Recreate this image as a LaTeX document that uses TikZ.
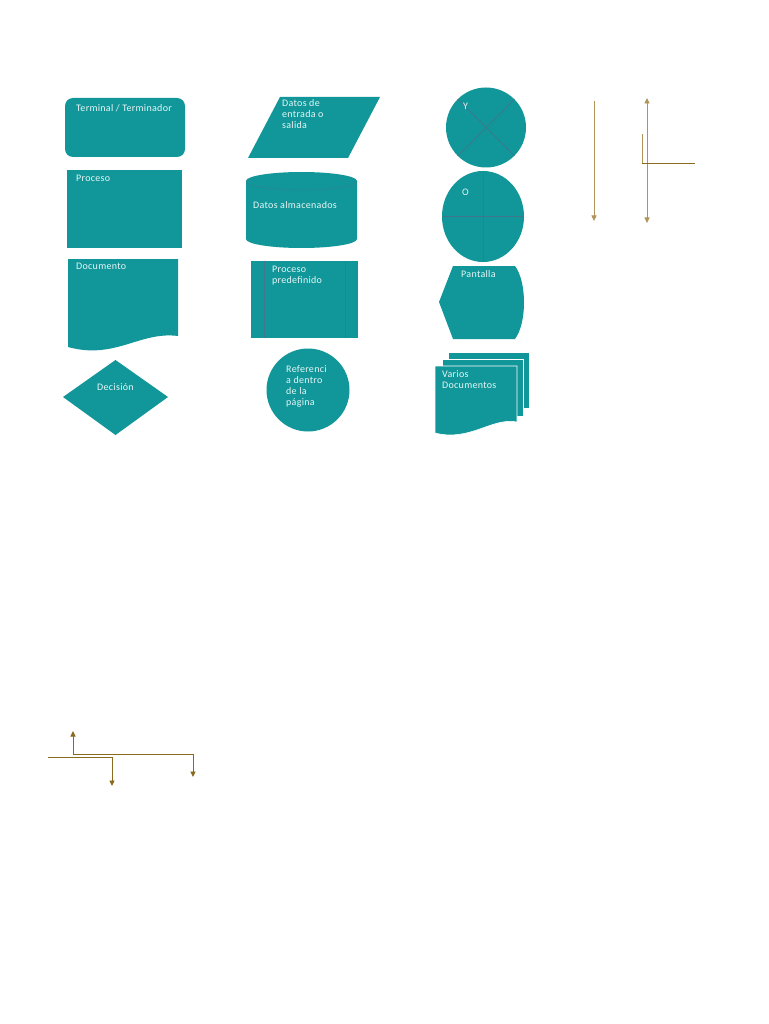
\documentclass[tikz,border=0pt]{standalone}
\usepackage{fontspec}
\setmainfont{Carlito}[LetterSpace=3]
\usetikzlibrary{arrows.meta}
\definecolor{teal1}{RGB}{17,151,153}
\definecolor{slate}{RGB}{66,118,140}
\definecolor{txt}{RGB}{232,246,246}
\definecolor{gold}{RGB}{138,106,28}
\definecolor{tan}{RGB}{176,148,90}
\newcommand{\lines}[1]{\vtop{\fontsize{10}{11}\selectfont\halign{##\hfil\cr#1\crcr}}}
\tikzset{
  fshape/.style={fill=teal1,draw=none},
  lbl/.style={text=txt,font=\fontsize{10}{11}\selectfont,inner sep=0pt,anchor=base west},
  inner/.style={draw=slate,line width=0.8pt},
  wline/.style={draw=white,line width=0.6pt},
  conn/.style={draw=gold,line width=0.9pt},
  vconn/.style={draw=tan,line width=0.8pt},
  tip/.style={-{Triangle[length=5.5pt,width=5pt]}},
  tipb/.style={{Triangle[length=5.5pt,width=5pt]}-{Triangle[length=5.5pt,width=5pt]}}
}
\begin{document}
\begin{tikzpicture}[x=1pt,y=-1pt]
\useasboundingbox[fill=white] (0,0) rectangle (768,1024);
% Terminal
\fill[fshape,rounded corners=8pt] (65,98) rectangle (185,157);
\node[lbl] (term) at (76,112) {Terminal / Terminador};
% Proceso
\fill[fshape] (67,170) rectangle (182,248);
\node[lbl] (proc) at (76,182) {Proceso};
% Documento
\fill[fshape] (68,259) -- (178,259) -- (178,336) .. controls (140,331) and (115,360) .. (68,347) -- cycle;
\node[lbl] (doc) at (76,269) {Documento};
% Decision
\fill[fshape] (63,397) -- (115.5,360) -- (168,397) -- (115.5,435) -- cycle;
\node[lbl] (dec) at (97,390) {Decisión};
% Datos de entrada
\fill[fshape] (280,97) -- (380,97) -- (348,158) -- (248,158) -- cycle;
\node[lbl] (ent) at (282,107) {\lines{Datos de\cr entrada o\cr salida}};
% Cylinder
\fill[fshape] (246,181) -- (246,239) arc[start angle=180,end angle=0,x radius=55.5,y radius=9] -- (357,181) arc[start angle=0,end angle=-180,x radius=55.5,y radius=9] -- cycle;
\draw[slate,line width=0.5pt,opacity=0.6] (246,181) arc[start angle=180,end angle=0,x radius=55.5,y radius=9];
\node[lbl] (alm) at (253,209) {Datos almacenados};
% Proceso predefinido
\fill[fshape] (251,261) rectangle (358,338);
\draw[inner,line width=0.6pt] (264,261) -- (264,338) (345,261) -- (345,338);
\node[lbl] (pre) at (272,272) {\lines{Proceso\cr predefinido}};
% Referencia
\fill[fshape] (308,390) circle[radius=41.5];
\node[lbl] (ref) at (286,372) {\lines{Referenci\cr a dentro\cr de la\cr página}};
% Y circle
\fill[fshape] (486,127.5) circle[radius=40];
\draw[inner,line width=0.7pt] (486,127.5) ++(135:40) -- ++(-45:80) (486,127.5) ++(45:40) -- ++(225:80);
\node[lbl] (y) at (463,110) {Y};
% O circle
\fill[fshape] (483,216.5) ellipse[x radius=41,y radius=45.5];
\draw[inner,line width=0.7pt] (483,171) -- (483,262) (442,216.5) -- (524,216.5);
\node[lbl] (o) at (462,196) {O};
% Pantalla
\fill[fshape] (453,266) -- (515,266) .. controls (527,282) and (527,323) .. (515,339) -- (453,339) -- (439,302) -- cycle;
\node[lbl] (pan) at (461,277) {Pantalla};
% Varios documentos
\filldraw[fshape,wline] (448,352) rectangle (529,408);
\filldraw[fshape,wline] (442,359) rectangle (523,416);
\filldraw[fshape,wline] (435,366) -- (517,366) -- (517,422) .. controls (492,417) and (470,442) .. (435,433) -- cycle;
\node[lbl] (var) at (442,377) {\lines{Varios\cr Documentos}};
% Arrows top right
\coordinate (a1s) at (594,101);
\coordinate (a1e) at (594,221);
\draw[vconn,tip] (a1s) -- (a1e);
\coordinate (a2s) at (647,98);
\coordinate (a2e) at (647,223);
\draw[vconn,tipb] (a2s) -- (a2e);
\coordinate (l1) at (642,134);
\coordinate (l2) at (642,163);
\coordinate (l3) at (695,163);
\draw[vconn] (l1) -- (l2);
\draw[conn] (l2) -- (l3);
% Arrows bottom left
\coordinate (b1) at (48,757);
\coordinate (b2) at (112,757);
\coordinate (b3) at (112,786);
\draw[conn,tip] (b1) -- (b2) -- (b3);
\coordinate (c1) at (73,731);
\coordinate (c2) at (73,754);
\coordinate (c3) at (193,754);
\coordinate (c4) at (193,777);
\draw[conn,tip] (c2) -- (c1);
\draw[conn,tip] (c2) -- (c3) -- (c4);
\end{tikzpicture}
\end{document}
